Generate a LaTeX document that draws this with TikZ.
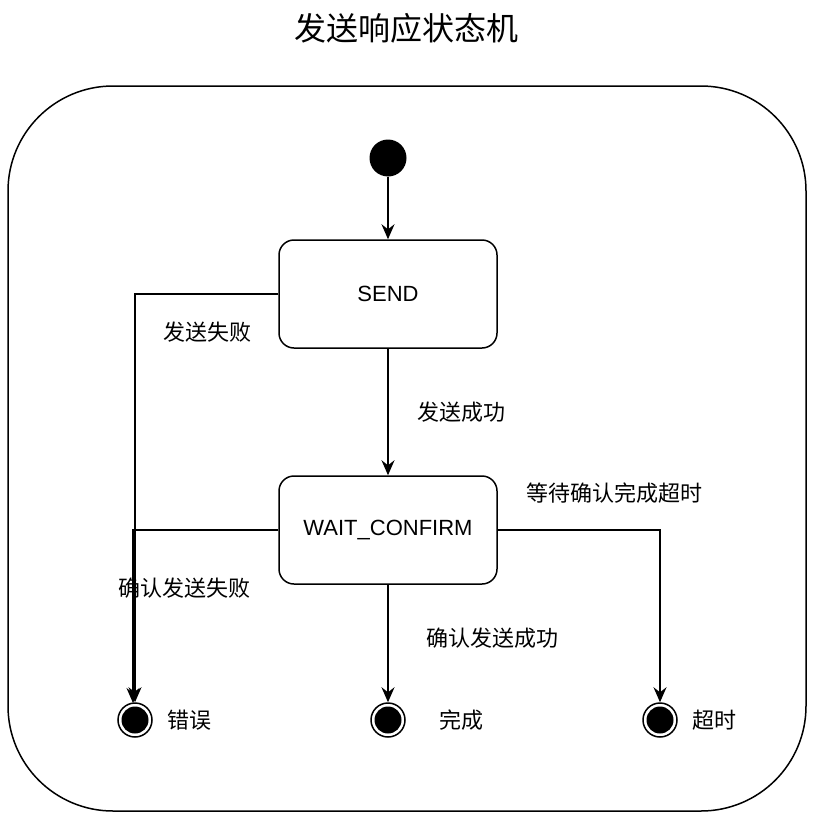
\documentclass[tikz,border=0pt]{standalone}
\usepackage{fontspec}
\setmainfont{Liberation Sans}
\newfontfamily\cjk{Noto Sans CJK SC}
\usetikzlibrary{arrows.meta}
\tikzset{
  statebox/.style={draw=black, line width=1.5pt, rounded corners=15pt, minimum width=218pt, minimum height=108pt, inner sep=0pt, font=\fontsize{22}{26}\selectfont},
  initst/.style={circle, fill=black, minimum size=37pt, inner sep=0pt},
  finalst/.style={circle, draw=black, line width=1.5pt, minimum size=34pt, inner sep=0pt, path picture={\fill[black] (path picture bounding box.center) circle[radius=13.5pt];}},
  lbl/.style={font=\cjk\fontsize{22}{26}\selectfont, inner sep=0pt},
  conn/.style={line width=1.5pt, -{Stealth[length=15pt,width=13pt,inset=5pt]}},
}
\begin{document}
\begin{tikzpicture}[x=1pt,y=-1pt]
\useasboundingbox (0,0) rectangle (812,819);
\node[font=\cjk\fontsize{32}{38}\selectfont, inner sep=0pt] (title) at (406,28) {发送响应状态机};
\draw[line width=1.5pt, rounded corners=105pt] (8,86) rectangle (806,811);
\node[initst] (init) at (388,158) {};
\node[statebox] (send) at (388,294) {SEND};
\node[statebox] (wait) at (388,530) {WAIT\_CONFIRM};
\node[finalst] (err) at (135,720) {};
\node[finalst] (done) at (388,720) {};
\node[finalst] (tout) at (660,720) {};
\node[lbl] (lerr) at (189,720) {错误};
\node[lbl] (ldone) at (461,720) {完成};
\node[lbl] (ltout) at (714,720) {超时};
\node[lbl] (l1) at (207,332) {发送失败};
\node[lbl] (l2) at (461,412) {发送成功};
\node[lbl] (l3) at (614,493) {等待确认完成超时};
\node[lbl] (l4) at (184,588) {确认发送失败};
\node[lbl] (l5) at (492,638) {确认发送成功};
\coordinate (c1) at (135,294);
\coordinate (c2) at (133,530);
\coordinate (c3) at (660,530);
\coordinate (e2) at (133,703);
\draw[conn] (init) -- (send);
\draw[conn] (send) -- (wait);
\draw[conn] (send.west) -- (c1) -- (err.north);
\draw[conn] (wait.west) -- (c2) -- (e2);
\draw[conn] (wait.south) -- (done.north);
\draw[conn] (wait.east) -- (c3) -- (tout.north);
\end{tikzpicture}
\end{document}
